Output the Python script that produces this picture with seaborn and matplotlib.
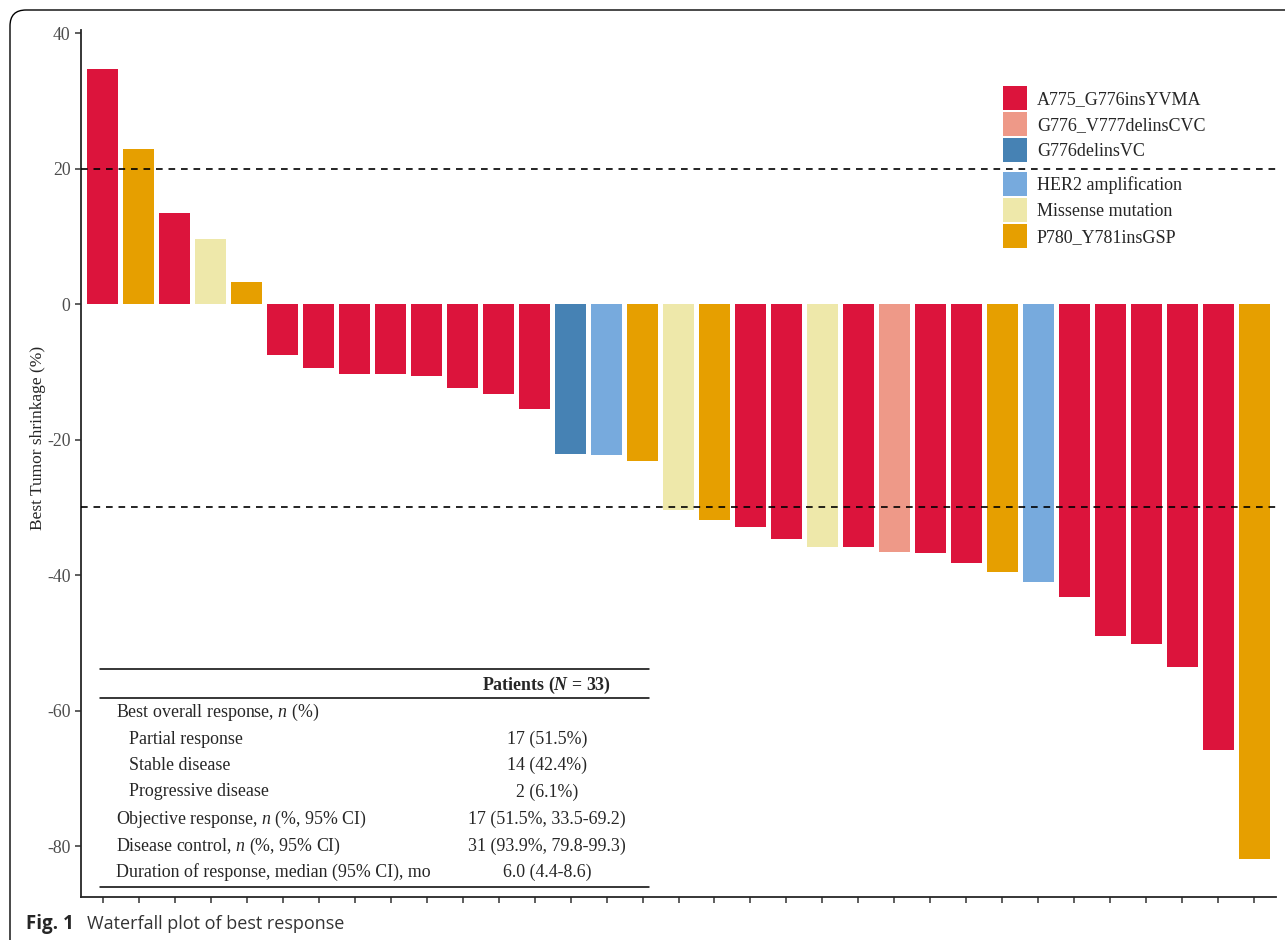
import pandas as pd
import seaborn as sns
import matplotlib.pyplot as plt
from matplotlib.lines import Line2D
from matplotlib.patches import FancyBboxPatch
from matplotlib.transforms import IdentityTransform

# Datos (orden de la cascada)
shrinkage = [34.7, 22.9, 13.4, 9.6, 3.2, -7.5, -9.4, -10.3, -10.3, -10.6, -12.4,
             -13.3, -15.5, -22.1, -22.3, -23.2, -30.4, -31.9, -32.9, -34.7, -35.9,
             -35.9, -36.6, -36.8, -38.2, -39.6, -41.0, -43.2, -49.0, -50.2, -53.6,
             -65.8, -81.9]
A, B, C, H, M, P = ("A775_G776insYVMA", "G776_V777delinsCVC", "G776delinsVC",
                    "HER2 amplification", "Missense mutation", "P780_Y781insGSP")
mutation = [A, P, A, M, P, A, A, A, A, A, A, A, A, C, H, P, M, P, A, A, M,
            A, B, A, A, P, H, A, A, A, A, A, P]
mut_order = [A, B, C, H, M, P]
mut_colors = ["#DC143C", "#EE9988", "#4682B4", "#77AADD", "#EEE8AA", "#E69F00"]
yticks = [40, 20, 0, -20, -40, -60, -80]
cutoffs = [20, -30]

table_left = ["Best overall response, $\\mathit{n}$ (%)", "Partial response",
              "Stable disease", "Progressive disease",
              "Objective response, $\\mathit{n}$ (%, 95% CI)",
              "Disease control, $\\mathit{n}$ (%, 95% CI)",
              "Duration of response, median (95% CI), mo"]
table_indent = [0, 1, 1, 1, 0, 0, 0]
table_right = ["", "17 (51.5%)", "14 (42.4%)", "2 (6.1%)", "17 (51.5%, 33.5-69.2)",
               "31 (93.9%, 79.8-99.3)", "6.0 (4.4-8.6)"]

df = pd.DataFrame({"patient": [f"P{i + 1}" for i in range(len(shrinkage))],
                   "shrinkage": shrinkage, "mutation": mutation})

sns.set_style("ticks")
plt.rcParams["font.family"] = ["Liberation Serif", "DejaVu Serif"]
plt.rcParams["mathtext.fontset"] = "custom"
plt.rcParams["mathtext.rm"] = "Liberation Serif"
plt.rcParams["mathtext.it"] = "Liberation Serif:italic"
plt.rcParams["mathtext.sf"] = "Liberation Serif:italic:bold"

W, Hh = 1285, 940
fig = plt.figure(figsize=(W / 100, Hh / 100), dpi=100)
ax = fig.add_axes([81 / W, 1 - 897 / Hh, 1195 / W, 867 / Hh])


def fx(px):
    return px / W


def fy(py):
    return 1 - py / Hh


sns.barplot(data=df, x="patient", y="shrinkage", hue="mutation", hue_order=mut_order,
            order=df["patient"], palette=dict(zip(mut_order, mut_colors)),
            dodge=False, width=0.86, saturation=1, linewidth=0, ax=ax)

for c in cutoffs:
    ax.axhline(c, color="black", lw=1.2, ls=(0, (4, 3.5)), zorder=3)

ax.set_xlim(-0.6, len(shrinkage) - 0.4)
ax.set_ylim(-87.5, 40.45)
ax.set_yticks(yticks)
ax.set_yticklabels([str(t) for t in yticks])
ax.set_xticklabels([])
ax.set_xlabel("")
ax.set_ylabel("Best Tumor shrinkage (%)", fontsize=12.5)
ax.yaxis.set_label_coords(-0.029, 0.53)
ax.tick_params(axis="both", length=4, width=1.1, color="#333333")
ax.tick_params(axis="y", labelsize=12.8, labelcolor="#4D4D4D")
for s in ["top", "right"]:
    ax.spines[s].set_visible(False)
for s in ["left", "bottom"]:
    ax.spines[s].set_linewidth(1.3)

# leyenda en dos bloques (como en la figura original)
handles, labels = ax.get_legend_handles_labels()
leg_kw = dict(loc="upper left", bbox_transform=fig.transFigure, frameon=False,
              fontsize=13, handlelength=1.33, handleheight=1.67, labelspacing=0.11,
              handletextpad=0.55, borderpad=0, borderaxespad=0)
leg1 = ax.legend(handles[:3], labels[:3], bbox_to_anchor=(fx(1003), fy(86)), **leg_kw)
ax.add_artist(leg1)
ax.legend(handles[3:], labels[3:], bbox_to_anchor=(fx(1003), fy(172)), **leg_kw)

# tabla de respuesta
for yy in [669, 698, 887]:
    fig.add_artist(Line2D([fx(100), fx(649)], [fy(yy), fy(yy)], color="black", lw=1.1))
fig.text(fx(547), fy(685), "Patients ($\\mathsf{N}$ = 33)", ha="center", va="center",
         fontsize=12.9, fontweight="bold")
row_y = [712, 739, 765, 792, 819, 846, 872]
for yy, txt, ind, val in zip(row_y, table_left, table_indent, table_right):
    fig.text(fx(116 + 13 * ind), fy(yy), txt, ha="left", va="center", fontsize=12.9)
    fig.text(fx(547), fy(yy), val, ha="center", va="center", fontsize=12.9)

# marco y pie de figura
frame = FancyBboxPatch((10, -20), 1300, 950, boxstyle="round,pad=0,rounding_size=16",
                       transform=IdentityTransform(), fill=False, ec="black", lw=1.0)
fig.add_artist(frame)
fig.text(fx(26), fy(929), "Fig. 1", fontsize=13.5, fontweight="bold",
         family="Open Sans", va="baseline")
fig.text(fx(87), fy(929), "Waterfall plot of best response", fontsize=13,
         family="Open Sans", color="#333333", va="baseline")

fig.savefig("out.png", dpi=100)
